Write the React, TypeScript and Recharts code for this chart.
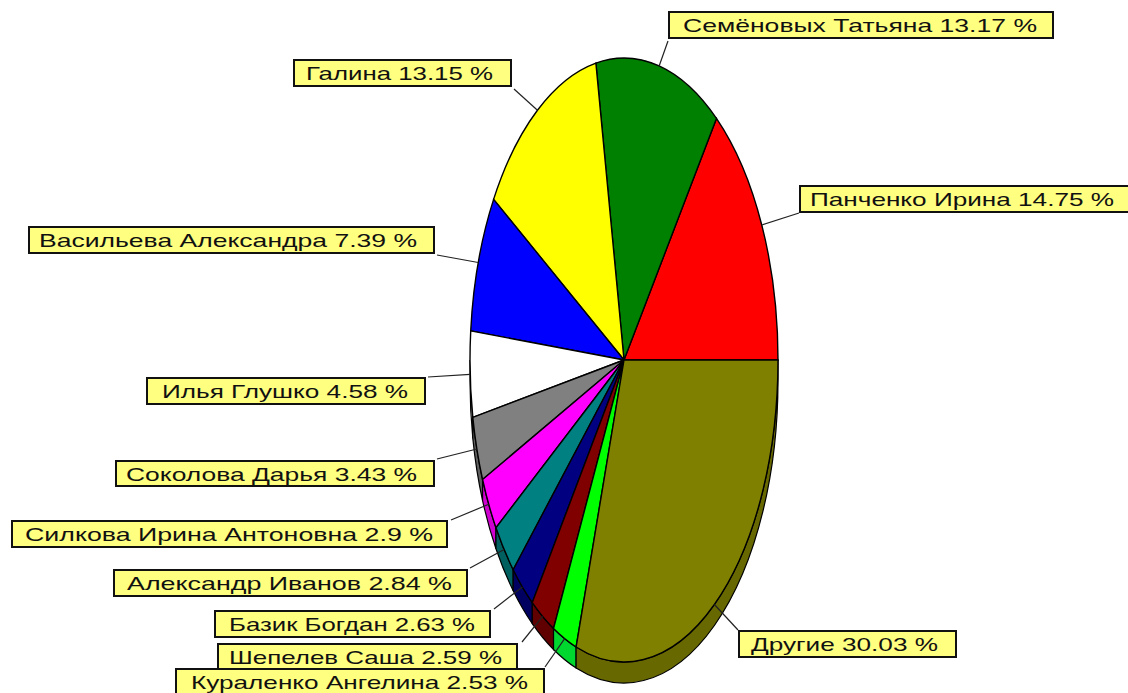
import { PieChart, Pie, Cell } from "recharts";

const names = [
  "Панченко Ирина",
  "Семёновых Татьяна",
  "Галина",
  "Васильева Александра",
  "Илья Глушко",
  "Соколова Дарья",
  "Силкова Ирина Антоновна",
  "Александр Иванов",
  "Базик Богдан",
  "Шепелев Саша",
  "Кураленко Ангелина",
  "Другие",
];
const shares = [14.75, 13.17, 13.15, 7.39, 4.58, 3.43, 2.9, 2.84, 2.63, 2.59, 2.53, 30.03];
const colors = [
  "#ff0000", "#008000", "#ffff00", "#0000ff", "#ffffff", "#808080",
  "#ff00ff", "#008080", "#000080", "#800000", "#00ff00", "#808000",
];
const wallColors = [
  "#c00000", "#006000", "#c0c000", "#0000c0", "#d8d8d8", "#606060",
  "#d000d0", "#006060", "#000060", "#600000", "#00d830", "#686800",
];

// label boxes: x, y, w, h, text x, text width, then where the leader line meets the box
const labelBoxes = [
  [799, 185, 340, 28, 810, 304, 799, 213],
  [668, 11, 386, 28, 683, 354, 668, 41],
  [293, 59, 219, 28, 306, 187, 514, 89],
  [28, 226, 407, 28, 39, 378, 437, 255],
  [146, 377, 280, 28, 162, 246, 428, 377],
  [115, 460, 320, 27, 126, 291, 437, 459],
  [11, 520, 437, 28, 25, 408, 451, 520],
  [113, 569, 355, 28, 127, 325, 470, 568],
  [214, 610, 277, 28, 229, 246, 494, 609],
  [217, 643, 301, 28, 229, 273, 522, 642],
  [175, 668, 370, 28, 191, 337, 545, 667],
  [738, 630, 219, 28, 751, 187, 738, 630],
];

const data = names.map((name, i) => ({ name, value: shares[i] }));

const CX = 624;
const CY = 360;
const RY = 302;
const RX = 154;
const DEPTH = 21;
const RAD = Math.PI / 180;
const FONT = "'Liberation Sans', Arial, sans-serif";

function point(cx: number, cy: number, outerRadius: number, deg: number) {
  const rx = (outerRadius * RX) / RY;
  return [cx + rx * Math.cos(deg * RAD), cy - outerRadius * Math.sin(deg * RAD)];
}

// pie top: the sector squeezed into an ellipse
function TopSector(props: any) {
  const { cx, cy, outerRadius, startAngle, endAngle, fill } = props;
  const rx = (outerRadius * RX) / RY;
  const [x0, y0] = point(cx, cy, outerRadius, startAngle);
  const [x1, y1] = point(cx, cy, outerRadius, endAngle);
  const large = endAngle - startAngle > 180 ? 1 : 0;
  return (
    <path
      d={`M${cx},${cy} L${x0},${y0} A${rx},${outerRadius} 0 ${large} 0 ${x1},${y1} Z`}
      fill={fill}
      stroke="#000"
      strokeWidth={1.4}
    />
  );
}

// side of the pie, only visible on the lower half
function WallSector(props: any) {
  const { cx, cy, outerRadius, startAngle, endAngle, fill } = props;
  const from = Math.max(startAngle, 180);
  const to = Math.min(endAngle, 360);
  if (to <= from) return null;
  const rx = (outerRadius * RX) / RY;
  const [x0, y0] = point(cx, cy, outerRadius, from);
  const [x1, y1] = point(cx, cy, outerRadius, to);
  return (
    <path
      d={`M${x0},${y0} A${rx},${outerRadius} 0 0 0 ${x1},${y1} L${x1},${y1 + DEPTH} A${rx},${outerRadius} 0 0 1 ${x0},${y0 + DEPTH} Z`}
      fill={fill}
      stroke="#000"
      strokeWidth={1.2}
    />
  );
}

function NoSector() {
  return null;
}

function SliceLabel(props: any) {
  const { cx, cy, outerRadius, midAngle, index } = props;
  const [x, y, w, h, tx, tw, ex, ey] = labelBoxes[index];
  const [sx, sy] = point(cx, cy, outerRadius, midAngle);
  const text = `${names[index]} ${shares[index]} %`;
  return (
    <g>
      <line x1={sx} y1={sy} x2={ex} y2={ey} stroke="#222" strokeWidth={1.2} />
      <rect x={x + 1} y={y + 1} width={w - 2} height={h - 2} fill="#ffff80" stroke="#111" strokeWidth={2} />
      <text
        x={tx}
        y={y + 21}
        textLength={tw}
        lengthAdjust="spacingAndGlyphs"
        fontFamily={FONT}
        fontSize={19}
        fill="#111"
      >
        {text}
      </text>
    </g>
  );
}

export default function App() {
  return (
    <div style={{ position: "absolute", left: 0, top: 0, width: 1128, height: 693, background: "#fff" }}>
      <PieChart width={1128} height={693} margin={{ top: 0, right: 0, bottom: 0, left: 0 }}>
        <Pie
          data={data}
          dataKey="value"
          cx={CX}
          cy={CY}
          outerRadius={RY}
          startAngle={0}
          endAngle={360}
          shape={NoSector}
          label={SliceLabel}
          labelLine={false}
          isAnimationActive={false}
        />
        <Pie
          data={data}
          dataKey="value"
          cx={CX}
          cy={CY}
          outerRadius={RY}
          startAngle={0}
          endAngle={360}
          shape={WallSector}
          isAnimationActive={false}
        >
          {wallColors.map((c, i) => (
            <Cell key={i} fill={c} />
          ))}
        </Pie>
        <Pie
          data={data}
          dataKey="value"
          cx={CX}
          cy={CY}
          outerRadius={RY}
          startAngle={0}
          endAngle={360}
          shape={TopSector}
          isAnimationActive={false}
        >
          {colors.map((c, i) => (
            <Cell key={i} fill={c} />
          ))}
        </Pie>
      </PieChart>
    </div>
  );
}
